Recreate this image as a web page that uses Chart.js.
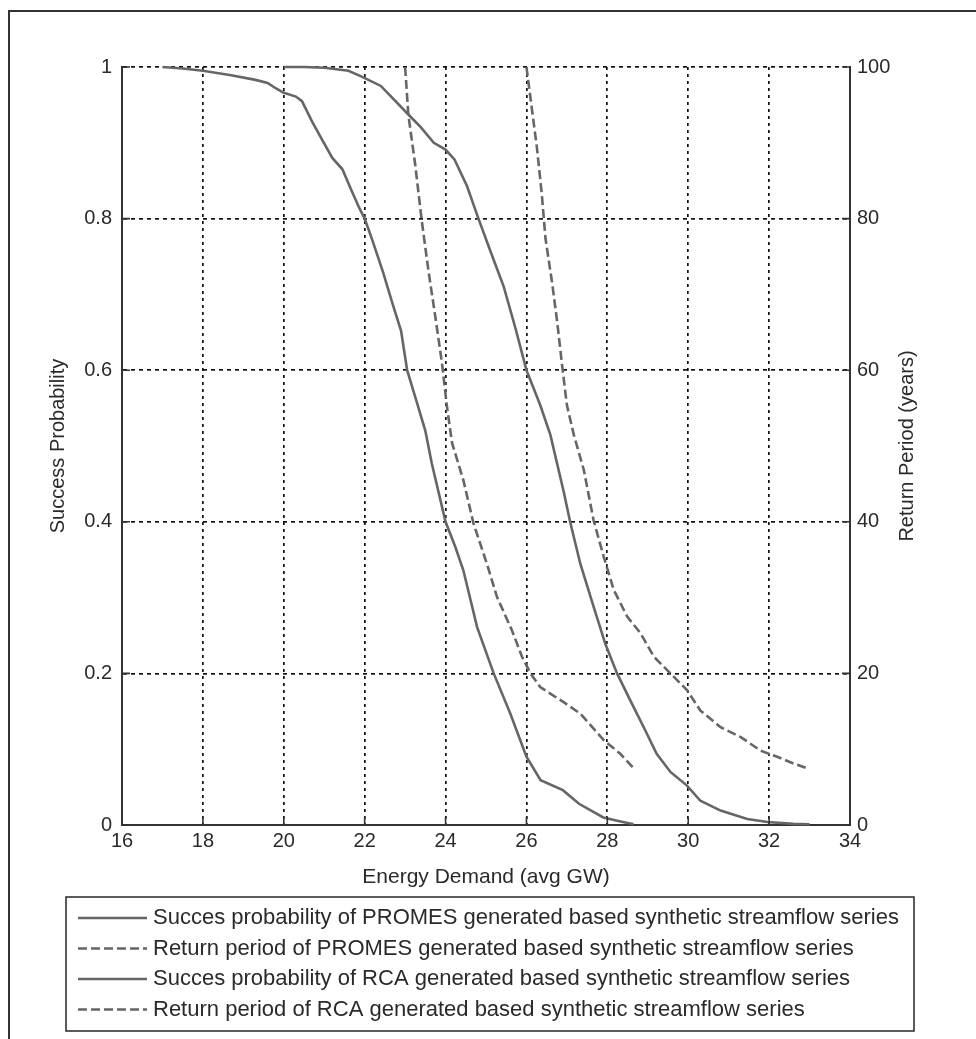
<!DOCTYPE html>
<html>
<head>
<meta charset="utf-8">
<script src="https://cdn.jsdelivr.net/npm/chart.js@4"></script>
<style>
  html, body { margin: 0; padding: 0; background: #fff; }
  canvas { display: block; }
</style>
</head>
<body>
<canvas id="chart" width="976" height="1039"></canvas>
<script>
// energy demand (avg GW) vs success probability / return period (years)
const promesDemand = [17.0, 17.5, 18.0, 18.7, 19.3, 19.6, 19.8, 20.0, 20.3, 20.45, 20.7, 20.95, 21.2, 21.45, 21.65, 21.85, 22.0, 22.2, 22.45, 22.7, 22.9, 23.05, 23.3, 23.5, 23.66, 24.0, 24.24, 24.44, 24.78, 25.19, 25.6, 26.0, 26.35, 26.9, 27.3, 27.9, 28.3, 28.65];
const promesSuccess = [1.0, 0.998, 0.995, 0.989, 0.983, 0.979, 0.972, 0.966, 0.961, 0.955, 0.928, 0.904, 0.88, 0.865, 0.84, 0.816, 0.8, 0.77, 0.73, 0.686, 0.652, 0.6, 0.556, 0.52, 0.477, 0.4, 0.367, 0.336, 0.261, 0.2, 0.147, 0.09, 0.059, 0.046, 0.028, 0.01, 0.005, 0.001];

const promesReturnDemand = [23.0, 23.08, 23.25, 23.41, 23.58, 23.74, 23.91, 24.03, 24.16, 24.44, 24.69, 25.02, 25.27, 25.64, 25.89, 26.1, 26.34, 26.92, 27.33, 27.91, 28.32, 28.63];
const promesReturn = [100, 93.7, 87.1, 79.8, 73, 67.3, 61, 55.4, 50.4, 45.5, 39.8, 34.5, 30.1, 25.7, 22.2, 20.0, 18.2, 16.2, 14.7, 11.2, 9.4, 7.6];

const rcaDemand = [20.0, 20.5, 21.0, 21.6, 21.9, 22.4, 23.05, 23.38, 23.71, 24.0, 24.22, 24.53, 24.8, 25.11, 25.44, 25.73, 26.0, 26.34, 26.59, 26.92, 27.08, 27.33, 27.66, 27.95, 28.24, 28.57, 28.9, 29.22, 29.56, 29.97, 30.3, 30.8, 31.46, 31.96, 32.6, 33.0];
const rcaSuccess = [1.0, 1.0, 0.999, 0.995, 0.988, 0.975, 0.939, 0.921, 0.9, 0.891, 0.878, 0.843, 0.802, 0.757, 0.71, 0.655, 0.6, 0.554, 0.515, 0.44, 0.4, 0.345, 0.288, 0.239, 0.2, 0.164, 0.129, 0.094, 0.07, 0.052, 0.032, 0.019, 0.008, 0.004, 0.0015, 0.001];

const rcaReturnDemand = [26.0, 26.1, 26.26, 26.38, 26.47, 26.63, 26.76, 26.88, 27.0, 27.17, 27.42, 27.66, 27.91, 28.16, 28.49, 28.82, 29.15, 29.56, 29.97, 30.3, 30.8, 31.3, 31.79, 32.2, 32.61, 32.98];
const rcaReturn = [100, 95.9, 89.3, 83.2, 77.4, 71.7, 66.4, 60.7, 55.4, 51.5, 46.8, 40.2, 35.4, 31.0, 27.5, 25.3, 22.2, 20.0, 17.8, 15.1, 12.9, 11.6, 9.8, 9.0, 8.1, 7.4];

const seriesLabels = [
  "Succes probability of PROMES generated based synthetic streamflow series",
  "Return period of PROMES generated based synthetic streamflow series",
  "Succes probability of RCA generated based synthetic streamflow series",
  "Return period of RCA generated based synthetic streamflow series",
];

const toPoints = (xs, ys) => xs.map((x, i) => ({ x: x, y: ys[i] }));

const FONT = "'Liberation Sans', Arial, sans-serif";
const TEXT = "#2a2a2a";
const LINE = "#666";
const GRID = "#111";

Chart.defaults.font.family = FONT;
Chart.defaults.color = TEXT;

// solid tick marks pointing into the plot box
const innerTicks = {
  id: "innerTicks",
  afterDraw(chart) {
    const { ctx, chartArea: a, scales } = chart;
    const len = 8;
    ctx.save();
    ctx.strokeStyle = "#333";
    ctx.lineWidth = 1.6;
    ctx.beginPath();
    scales.x.ticks.forEach((t) => {
      const px = scales.x.getPixelForValue(t.value);
      ctx.moveTo(px, a.bottom); ctx.lineTo(px, a.bottom - len);
    });
    scales.y.ticks.forEach((t) => {
      const py = scales.y.getPixelForValue(t.value);
      ctx.moveTo(a.left, py); ctx.lineTo(a.left + len, py);
    });
    scales.y2.ticks.forEach((t) => {
      const py = scales.y2.getPixelForValue(t.value);
      ctx.moveTo(a.right, py); ctx.lineTo(a.right - len, py);
    });
    ctx.stroke();
    ctx.restore();
  },
};

// right axis title reads bottom-to-top, plus the outer frame
const extras = {
  id: "extras",
  afterDraw(chart) {
    const { ctx, chartArea: a } = chart;
    ctx.save();
    ctx.fillStyle = TEXT;
    ctx.font = "20px " + FONT;
    ctx.textAlign = "center";
    ctx.textBaseline = "middle";
    ctx.translate(907, (a.top + a.bottom) / 2);
    ctx.rotate(-Math.PI / 2);
    ctx.fillText("Return Period (years)", 0, 0);
    ctx.restore();

    ctx.save();
    ctx.strokeStyle = "#333";
    ctx.lineWidth = 2;
    ctx.beginPath();
    ctx.moveTo(9, chart.height);
    ctx.lineTo(9, 11);
    ctx.lineTo(chart.width, 11);
    ctx.stroke();
    ctx.restore();
  },
};

// boxed legend under the x axis title
const boxLegend = {
  id: "boxLegend",
  afterDraw(chart) {
    const { ctx } = chart;
    const left = 66, top = 897, rowH = 30.5, firstRow = 918;
    ctx.save();
    ctx.font = "22px " + FONT;
    let maxW = 0;
    chart.data.datasets.forEach((ds) => {
      maxW = Math.max(maxW, ctx.measureText(ds.label).width);
    });
    const textX = 153;
    const right = Math.max(914, textX + maxW + 12);
    const bottom = 1031;
    ctx.fillStyle = "#fff";
    ctx.fillRect(left, top, right - left, bottom - top);
    ctx.strokeStyle = "#333";
    ctx.lineWidth = 1.6;
    ctx.strokeRect(left, top, right - left, bottom - top);

    chart.data.datasets.forEach((ds, i) => {
      const cy = firstRow + i * rowH;
      ctx.strokeStyle = ds.borderColor;
      ctx.lineWidth = ds.borderWidth;
      ctx.setLineDash(ds.borderDash || []);
      ctx.beginPath();
      ctx.moveTo(78, cy);
      ctx.lineTo(147, cy);
      ctx.stroke();
      ctx.setLineDash([]);
      ctx.fillStyle = TEXT;
      ctx.textAlign = "left";
      ctx.textBaseline = "middle";
      ctx.fillText(ds.label, textX, cy);
    });
    ctx.restore();
  },
};

const whiteBg = {
  id: "whiteBg",
  beforeDraw(chart) {
    const { ctx } = chart;
    ctx.save();
    ctx.fillStyle = "#fff";
    ctx.fillRect(0, 0, chart.width, chart.height);
    ctx.restore();
  },
};

const lineStyle = (dashed) => ({
  borderColor: LINE,
  borderWidth: 2.6,
  borderDash: dashed ? [9, 4] : [],
  pointRadius: 0,
  tension: 0,
  fill: false,
  clip: 4,
});

const ctx = document.getElementById("chart").getContext("2d");
const chart = new Chart(ctx, {
  type: "line",
  data: {
    datasets: [
      { label: seriesLabels[0], data: toPoints(promesDemand, promesSuccess), yAxisID: "y", ...lineStyle(false) },
      { label: seriesLabels[1], data: toPoints(promesReturnDemand, promesReturn), yAxisID: "y2", ...lineStyle(true) },
      { label: seriesLabels[2], data: toPoints(rcaDemand, rcaSuccess), yAxisID: "y", ...lineStyle(false) },
      { label: seriesLabels[3], data: toPoints(rcaReturnDemand, rcaReturn), yAxisID: "y2", ...lineStyle(true) },
    ],
  },
  options: {
    responsive: false,
    animation: false,
    events: [],
    layout: { padding: { left: 0, top: 67, right: 0, bottom: 149 } },
    plugins: {
      legend: { display: false },
      tooltip: { enabled: false },
    },
    scales: {
      x: {
        type: "linear",
        min: 16,
        max: 34,
        afterFit: (s) => { s.height = 65; },
        ticks: { stepSize: 2, padding: 4, font: { size: 20 }, color: TEXT, maxRotation: 0 },
        grid: { color: GRID, lineWidth: 1.7, drawTicks: false },
        border: { display: true, color: "#333", width: 2, dash: [3, 4] },
        title: {
          display: true,
          text: "Energy Demand (avg GW)",
          font: { size: 21 },
          color: TEXT,
          padding: { top: 0, bottom: 0 },
        },
      },
      y: {
        type: "linear",
        position: "left",
        min: 0,
        max: 1,
        afterFit: (s) => { s.width = 122; },
        ticks: {
          stepSize: 0.2,
          padding: 10,
          font: { size: 20 },
          color: TEXT,
          callback: (v) => String(Math.round(v * 10) / 10),
        },
        grid: { color: GRID, lineWidth: 1.7, drawTicks: false },
        border: { display: true, color: "#333", width: 2, dash: [4, 4] },
        title: {
          display: true,
          text: "Success Probability",
          font: { size: 20 },
          color: TEXT,
          padding: { top: 46, bottom: 0 },
        },
      },
      y2: {
        type: "linear",
        position: "right",
        min: 0,
        max: 100,
        afterFit: (s) => { s.width = 126; },
        ticks: { stepSize: 20, padding: 7, font: { size: 20 }, color: TEXT },
        grid: { drawOnChartArea: false, drawTicks: false },
        border: { display: true, color: "#333", width: 2 },
      },
    },
  },
  plugins: [whiteBg, innerTicks, extras, boxLegend],
});
</script>
</body>
</html>
